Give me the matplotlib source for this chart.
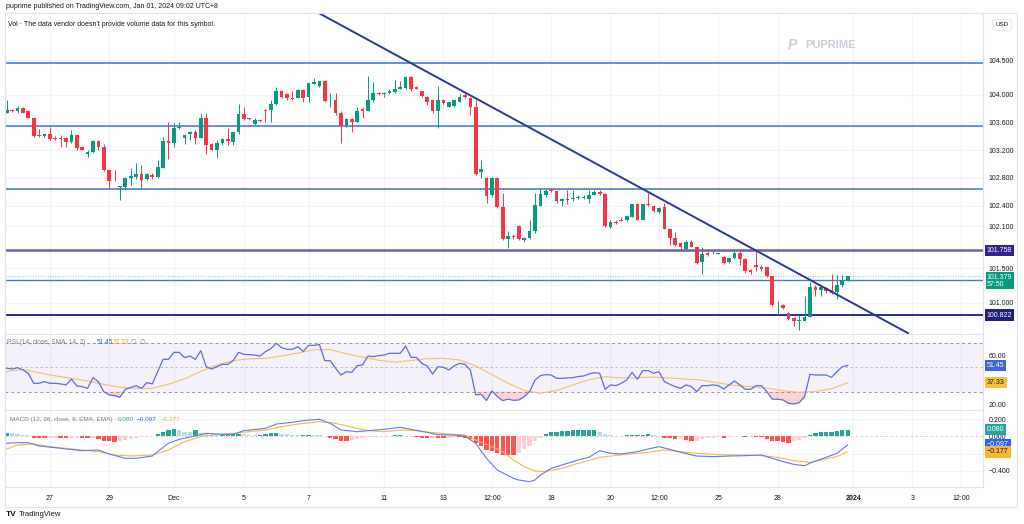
import numpy as np
import matplotlib.pyplot as plt
from matplotlib.patches import Rectangle

plt.rcParams['font.family'] = ['Liberation Sans', 'DejaVu Sans']

# 4H candles, Nov 24 2023 -> Dec 29 2023
opens = [103.74, 103.78, 103.77, 103.81, 103.76, 103.67, 103.42, 103.40, 103.43, 103.38,
         103.38, 103.38, 103.32, 103.42, 103.25, 103.14, 103.17, 103.33, 103.25, 102.91,
         102.76, 102.67, 102.67, 102.80, 102.82, 102.86, 102.78, 102.84, 102.81, 102.95,
         103.33, 103.31, 103.52, 103.37, 103.43, 103.47, 103.38, 103.66, 103.29, 103.21,
         103.30, 103.36, 103.32, 103.46, 103.72, 103.65, 103.58, 103.64, 103.78, 103.78,
         103.87, 104.06, 104.01, 103.96, 103.96, 104.07, 103.97, 104.16, 104.13, 104.20,
         103.92, 103.92, 103.74, 103.55, 103.65, 103.61, 103.79, 103.77, 103.92, 104.03,
         104.01, 104.02, 104.04, 104.09, 104.10, 104.26, 104.11, 104.05, 103.97, 103.92,
         103.77, 103.93, 103.83, 103.84, 103.90, 104.00, 103.95, 103.83, 102.88, 102.80,
         102.55, 102.80, 102.38, 101.92, 101.96, 102.11, 101.91, 101.93, 102.03, 102.40,
         102.56, 102.62, 102.61, 102.46, 102.50, 102.49, 102.51, 102.51, 102.49, 102.56,
         102.60, 102.57, 102.09, 102.17, 102.19, 102.19, 102.24, 102.42, 102.20, 102.42,
         102.40, 102.31, 102.38, 102.07, 101.93, 101.86, 101.77, 101.88, 101.80, 101.58,
         101.71, 101.71, 101.70, 101.66, 101.58, 101.64, 101.72, 101.63, 101.47, 101.54,
         101.52, 101.51, 101.38, 100.96, 100.97, 100.85, 100.78, 100.73, 100.74, 100.80,
         101.23, 101.19, 101.21, 101.19, 101.15, 101.26, 101.33]
highs = [103.93, 103.79, 103.84, 103.82, 103.78, 103.68, 103.50, 103.43, 103.54, 103.40,
         103.42, 103.39, 103.49, 103.43, 103.26, 103.20, 103.35, 103.35, 103.29, 102.92,
         102.91, 102.68, 102.82, 102.95, 103.02, 102.99, 102.87, 102.87, 103.06, 103.39,
         103.60, 103.59, 103.61, 103.44, 103.48, 103.49, 103.74, 103.74, 103.30, 103.35,
         103.37, 103.52, 103.47, 103.87, 103.83, 103.67, 103.66, 103.65, 103.80, 103.92,
         104.11, 104.07, 104.02, 104.06, 104.08, 104.08, 104.17, 104.24, 104.20, 104.21,
         104.02, 104.02, 103.76, 103.67, 103.66, 103.82, 103.82, 104.27, 104.18, 104.04,
         104.04, 104.08, 104.21, 104.20, 104.27, 104.27, 104.12, 104.06, 103.98, 103.94,
         104.12, 103.94, 103.90, 103.93, 104.01, 104.02, 103.97, 103.92, 103.06, 102.81,
         102.81, 102.81, 102.58, 102.04, 101.99, 102.12, 101.95, 102.19, 102.58, 102.65,
         102.64, 102.65, 102.63, 102.51, 102.62, 102.63, 102.56, 102.56, 102.63, 102.63,
         102.63, 102.58, 102.19, 102.19, 102.24, 102.27, 102.43, 102.44, 102.43, 102.58,
         102.41, 102.38, 102.44, 102.08, 102.02, 101.87, 101.90, 101.90, 101.81, 101.81,
         101.74, 101.75, 101.72, 101.67, 101.65, 101.74, 101.75, 101.64, 101.48, 101.76,
         101.54, 101.52, 101.39, 101.02, 100.98, 100.86, 100.79, 100.82, 101.09, 101.30,
         101.26, 101.23, 101.23, 101.42, 101.40, 101.40, 101.39]
lows = [103.74, 103.75, 103.73, 103.73, 103.66, 103.39, 103.39, 103.39, 103.35, 103.35,
        103.25, 103.24, 103.31, 103.21, 103.20, 103.10, 103.16, 103.20, 102.90, 102.65,
        102.75, 102.48, 102.63, 102.70, 102.79, 102.66, 102.77, 102.79, 102.80, 102.94,
        103.07, 103.25, 103.51, 103.29, 103.35, 103.29, 103.37, 103.15, 103.20, 103.09,
        103.28, 103.28, 103.28, 103.44, 103.64, 103.64, 103.57, 103.61, 103.61, 103.60,
        103.85, 103.96, 103.93, 103.92, 103.95, 103.89, 103.89, 104.16, 104.11, 103.89,
        103.83, 103.71, 103.30, 103.53, 103.47, 103.60, 103.66, 103.76, 103.90, 104.00,
        103.97, 104.01, 104.02, 104.08, 104.09, 104.05, 104.09, 103.97, 103.85, 103.74,
        103.52, 103.87, 103.82, 103.83, 103.89, 103.96, 103.71, 102.84, 102.80, 102.44,
        102.53, 102.36, 101.91, 101.79, 101.92, 101.91, 101.88, 101.92, 102.01, 102.39,
        102.53, 102.60, 102.44, 102.40, 102.43, 102.46, 102.49, 102.50, 102.44, 102.56,
        102.56, 102.09, 102.08, 102.14, 102.18, 102.18, 102.23, 102.19, 102.19, 102.40,
        102.31, 102.29, 102.06, 101.83, 101.82, 101.75, 101.76, 101.80, 101.56, 101.42,
        101.67, 101.70, 101.70, 101.56, 101.57, 101.63, 101.54, 101.43, 101.42, 101.45,
        101.45, 101.37, 100.95, 100.82, 100.91, 100.75, 100.66, 100.60, 100.73, 100.79,
        101.09, 101.09, 101.14, 101.13, 101.06, 101.23, 101.32]
closes = [103.78, 103.76, 103.81, 103.74, 103.67, 103.40, 103.40, 103.43, 103.36, 103.36,
          103.36, 103.32, 103.42, 103.23, 103.21, 103.17, 103.33, 103.24, 102.91, 102.76,
          102.75, 102.68, 102.80, 102.83, 102.86, 102.77, 102.86, 102.81, 102.96, 103.34,
          103.31, 103.52, 103.54, 103.42, 103.47, 103.38, 103.66, 103.28, 103.21, 103.30,
          103.36, 103.33, 103.46, 103.72, 103.65, 103.66, 103.64, 103.62, 103.77, 103.87,
          104.06, 103.97, 103.95, 103.94, 104.07, 103.96, 104.17, 104.18, 104.20, 103.91,
          103.93, 103.73, 103.55, 103.65, 103.60, 103.76, 103.77, 103.92, 104.02, 104.01,
          104.03, 104.06, 104.09, 104.11, 104.26, 104.08, 104.09, 103.98, 103.90, 103.77,
          103.93, 103.88, 103.89, 103.92, 103.97, 103.97, 103.83, 102.86, 102.93, 102.54,
          102.80, 102.38, 101.92, 101.96, 101.95, 101.92, 101.93, 102.03, 102.41, 102.57,
          102.61, 102.61, 102.46, 102.49, 102.48, 102.51, 102.52, 102.52, 102.56, 102.60,
          102.57, 102.10, 102.17, 102.15, 102.18, 102.25, 102.42, 102.20, 102.42, 102.41,
          102.32, 102.36, 102.07, 101.93, 101.83, 101.81, 101.88, 101.81, 101.57, 101.70,
          101.69, 101.72, 101.71, 101.57, 101.64, 101.72, 101.63, 101.45, 101.44, 101.52,
          101.48, 101.38, 100.97, 100.97, 100.92, 100.76, 100.73, 100.75, 100.80, 101.22,
          101.18, 101.22, 101.17, 101.14, 101.26, 101.33, 101.38]

# RSI(14) per candle, and its SMA read every 3 candles
rsi = [49.2, 48.6, 49.7, 47.8, 45.1, 36.9, 36.9, 38.3, 36.9, 36.9,
       36.4, 35.6, 40.4, 34.8, 34.2, 32.8, 41.5, 38.3, 30.1, 27.4,
       26.8, 25.5, 32.0, 33.4, 35.0, 32.8, 37.5, 36.4, 46.4, 56.5,
       56.5, 62.2, 62.2, 57.9, 59.2, 56.5, 63.6, 50.5, 48.6, 50.5,
       52.4, 52.4, 55.4, 62.2, 60.6, 60.3, 60.0, 59.2, 62.8, 65.2,
       69.6, 66.0, 64.7, 64.7, 66.8, 63.0, 67.9, 67.9, 68.7, 55.4,
       55.4, 49.2, 43.7, 46.4, 45.9, 51.3, 51.9, 59.2, 58.7, 59.5,
       60.0, 61.4, 61.4, 61.4, 67.4, 58.1, 58.1, 53.2, 51.1, 44.5,
       50.5, 50.0, 47.8, 51.1, 53.2, 52.4, 47.8, 27.4, 27.9, 22.8,
       30.7, 26.0, 22.8, 23.9, 23.0, 23.3, 26.0, 30.1, 39.6, 43.2,
       44.0, 43.7, 41.0, 41.0, 41.3, 41.5, 42.4, 42.9, 44.5, 45.6,
       45.1, 32.0, 35.6, 35.0, 36.9, 39.6, 45.9, 40.2, 47.3, 47.3,
       45.1, 46.4, 38.3, 36.1, 34.2, 32.8, 35.6, 34.2, 30.1, 35.0,
       35.0, 35.6, 35.0, 32.3, 35.6, 38.8, 35.6, 32.0, 32.0, 35.0,
       35.0, 30.1, 23.9, 23.9, 23.3, 20.6, 20.0, 21.1, 26.0, 44.3,
       43.7, 43.7, 43.7, 41.8, 46.4, 50.5, 51.45]
rsi_ma_idx = list(range(0, 157, 3))
rsi_ma = [46.4, 48.3, 45.5, 43.0, 41.0, 38.8, 36.0, 33.8, 32.8, 32.8,
          36.2, 40.5, 46.6, 51.9, 55.4, 57.0, 57.3, 59.2, 61.6, 64.3,
          64.5, 61.0, 58.3, 55.7, 54.2, 55.5, 57.0, 57.3, 56.0, 51.0,
          44.0, 37.0, 31.0, 28.8, 31.0, 35.5, 39.8, 42.3, 41.3, 41.5,
          42.0, 41.2, 40.4, 39.5, 37.2, 35.2, 34.3, 33.0, 30.8, 29.5,
          30.2, 32.5, 37.33]

# MACD (12, 26, 9)
macd_hist = [0.039, 0.035, 0.031, 0.023, 0.012, -0.012, -0.016, -0.019, -0.016, -0.012,
             -0.019, -0.023, -0.019, -0.016, -0.023, -0.023, -0.016, -0.031, -0.047, -0.058,
             -0.066, -0.058, -0.039, -0.027, -0.016, -0.008, -0.004, 0.008, 0.031, 0.058,
             0.078, 0.089, 0.078, 0.058, 0.047, 0.070, 0.039, 0.027, 0.023, 0.019,
             0.019, 0.023, 0.027, 0.031, 0.027, 0.023, 0.016, 0.023, 0.031, 0.039,
             0.039, 0.031, 0.027, 0.023, 0.019, 0.019, 0.023, 0.016, 0.012, 0.002,
             -0.012, -0.031, -0.047, -0.054, -0.039, -0.027, -0.016, -0.008, -0.004, 0.002,
             0.008, 0.008, 0.012, 0.012, 0.004, 0.002, -0.004, -0.012, -0.019, -0.012,
             -0.023, -0.023, -0.012, -0.008, -0.008, -0.012, -0.027, -0.078, -0.116, -0.155,
             -0.174, -0.194, -0.213, -0.213, -0.213, -0.194, -0.147, -0.109, -0.058, -0.019,
             0.027, 0.047, 0.058, 0.066, 0.066, 0.070, 0.070, 0.070, 0.070, 0.070,
             0.058, 0.031, 0.019, 0.008, 0.008, 0.012, 0.016, 0.023, 0.023, 0.027,
             0.019, 0.008, -0.012, -0.023, -0.031, -0.023, -0.039, -0.050, -0.047, -0.031,
             -0.019, -0.016, -0.008, -0.012, -0.004, 0.002, 0.008, -0.008, 0.002, -0.004,
             -0.008, -0.031, -0.047, -0.058, -0.066, -0.070, -0.058, -0.039, -0.012, 0.019,
             0.039, 0.047, 0.050, 0.058, 0.062, 0.070, 0.080]
macd_idx = [0, 2, 4, 6, 9, 11, 14, 17, 19, 22, 24, 27, 28, 30, 32, 35, 37, 40, 42, 44,
            48, 50, 53, 55, 58, 60, 62, 65, 67, 70, 73, 75, 78, 80, 83, 85, 87, 89, 91, 94,
            95, 97, 98, 99, 101, 103, 106, 108, 110, 112, 114, 117, 119, 121, 123, 125, 128,
            131, 134, 137, 140, 143, 146, 148, 149, 152, 154, 156]
macd_line = [-0.079, -0.072, -0.072, -0.110, -0.130, -0.145, -0.165, -0.157, -0.203, -0.254,
             -0.254, -0.227, -0.176, -0.079, -0.033, 0.006, 0.037, 0.025, 0.025, 0.068,
             0.095, 0.145, 0.165, 0.184, 0.200, 0.153, 0.076, 0.056, 0.068, 0.083,
             0.107, 0.083, 0.048, 0.021, 0.017, 0.006, -0.079, -0.254, -0.390, -0.486,
             -0.506, -0.525, -0.506, -0.448, -0.370, -0.331, -0.273, -0.242, -0.165, -0.196,
             -0.203, -0.176, -0.145, -0.118, -0.149, -0.184, -0.227, -0.234, -0.227, -0.223,
             -0.215, -0.273, -0.324, -0.339, -0.310, -0.242, -0.196, -0.097]
signal_idx = [0, 2, 5, 8, 11, 14, 17, 20, 23, 27, 30, 33, 36, 39, 42, 45, 48, 51, 54, 58,
              61, 64, 67, 70, 73, 76, 79, 82, 85, 87, 90, 92, 94, 96, 98, 100, 103, 106, 110,
              112, 115, 119, 122, 125, 128, 131, 134, 137, 140, 143, 146, 149, 151, 154, 156]
signal_line = [-0.145, -0.099, -0.087, -0.118, -0.138, -0.157, -0.176, -0.215, -0.227, -0.215,
               -0.157, -0.060, -0.002, 0.025, 0.037, 0.056, 0.076, 0.114, 0.145, 0.172,
               0.153, 0.107, 0.068, 0.056, 0.076, 0.068, 0.045, 0.029, 0.017, -0.041,
               -0.118, -0.176, -0.273, -0.351, -0.401, -0.409, -0.370, -0.312, -0.242, -0.227,
               -0.207, -0.184, -0.157, -0.176, -0.196, -0.207, -0.215, -0.215, -0.223, -0.242,
               -0.281, -0.300, -0.273, -0.234, -0.177]

# drawn levels and trend line
levels = [104.455, 103.55, 102.636, 101.758, 101.33, 100.822]
level_colors = ['#4a7bd0', '#4a7bd0', '#4a7bd0', '#6b5fb0', '#4a7bd0', '#2c2a8c']
level_widths = [1.2, 1.2, 1.2, 1.8, 1.0, 1.4]
trend_x = [58.1, 167.2]
trend_y = [105.17, 100.56]

price_ticks = [104.5, 104.0, 103.6, 103.2, 102.8, 102.4, 102.1, 101.5, 101.0]
date_pos = [8, 19, 31, 44, 56, 70, 81, 90, 101, 112, 121, 132, 143, 157, 168, 177]
date_lbl = ['27', '29', 'Dec', '5', '7', '11', '13', '12:00', '18', '20', '12:00',
            '25', '28', '2024', '3', '12:00']

UP, DOWN = '#089981', '#f23645'
GRID = '#f0f3fa'
BORDER = '#e0e3eb'
TXT = '#131722'
GRAY = '#787b86'

W, H = 1024, 524
fig = plt.figure(figsize=(W / 100, H / 100), dpi=100)


def px_axes(x0, y0, x1, y1):
    return fig.add_axes([x0 / W, 1 - y1 / H, (x1 - x0) / W, (y1 - y0) / H])


ax = px_axes(5, 13, 983, 334)
ax_rsi = px_axes(5, 334, 983, 410)
ax_macd = px_axes(5, 410, 983, 487)

x = np.arange(len(closes))
o, h, l, c = map(np.array, (opens, highs, lows, closes))
up = c >= o
cols = np.where(up, UP, DOWN)

for a in (ax, ax_rsi, ax_macd):
    a.set_xlim(-0.32, 181.1)
    for p in date_pos:
        a.axvline(p, color=GRID, lw=0.8, zorder=0)
    for s in a.spines.values():
        s.set_color(BORDER)
        s.set_linewidth(0.8)
    a.yaxis.tick_right()
    a.tick_params(axis='y', length=0, pad=4, labelsize=5, labelcolor=TXT)
    a.tick_params(axis='x', length=0)
    a.set_xticks(date_pos)
    a.set_xticklabels([])

# --- price pane
ax.set_ylim(100.548, 105.18)
for t in price_ticks:
    ax.axhline(t, color=GRID, lw=0.8, zorder=0)
ax.set_yticks(price_ticks)
ax.set_yticklabels([f'{t:.3f}' for t in price_ticks])

ax.vlines(x, l, h, colors=cols, lw=0.7, zorder=3)
body = np.maximum(np.abs(c - o), 0.008)
ax.bar(x, body, bottom=np.minimum(o, c), width=0.68, color=cols, zorder=4)

for lv, lc, lw in zip(levels, level_colors, level_widths):
    ax.axhline(lv, color=lc, lw=lw, zorder=2)
ax.plot(trend_x, trend_y, color='#2b3a92', lw=1.4, zorder=5)
ax.axhline(closes[-1], color=UP, lw=0.6, ls=(0, (1, 2)), alpha=0.7, zorder=1)


def right_box(a, y, text, bg, fg='white', pad=0.3):
    a.text(1.004, y, text, transform=a.get_yaxis_transform(), ha='left', va='center',
           fontsize=5, color=fg, clip_on=False, zorder=10, linespacing=1.0,
           bbox=dict(boxstyle=f'square,pad={pad}', fc=bg, ec='none'))


def legend_text(a, px, y, text, color, size=4.7):
    a.text((px - 5) / 978, y, text, transform=a.get_yaxis_transform(), fontsize=size,
           color=color, va='center')


right_box(ax, 101.758, '101.758', '#34208f')
right_box(ax, 101.32, '101.379\n57:50', UP, pad=0.2)
right_box(ax, 100.822, '100.822', '#221f80')

fig.text(6 / W, 1 - 7 / H, 'puprime published on TradingView.com, Jan 01, 2024 09:02 UTC+8',
         fontsize=5, color=TXT, va='center')
fig.text(8 / W, 1 - 24 / H, "Vol \u00b7 The data vendor doesn't provide volume data for this symbol.",
         fontsize=5, color=TXT, va='center')
fig.text(1002 / W, 1 - 25 / H, 'USD', fontsize=4.5, color=TXT, ha='center', va='center',
         bbox=dict(boxstyle='round,pad=0.5', fc='white', ec=BORDER, lw=0.6))
fig.text(792 / W, 1 - 45 / H, 'P', fontsize=10, color='#c9cdd6', weight='bold',
         style='italic', ha='center', va='center')
fig.text(805 / W, 1 - 45 / H, 'PUPRIME', fontsize=8, color='#c9cdd6', weight='bold',
         va='center')

# --- RSI pane
ax_rsi.set_ylim(15.1, 77.2)
ax_rsi.axhspan(30, 70, color='#7e57c2', alpha=0.08, lw=0, zorder=0)
for lv in (70, 30):
    ax_rsi.axhline(lv, color='#9598a1', lw=0.7, ls=(0, (3, 3)), zorder=1)
ax_rsi.axhline(50, color='#b2b5be', lw=0.6, ls=(0, (3, 3)), zorder=1)
ax_rsi.set_yticks([60, 20])
ax_rsi.set_yticklabels(['60.00', '20.00'])
r = np.array(rsi)
ax_rsi.fill_between(x, r, 30, where=r < 30, interpolate=True, color='#f23645',
                    alpha=0.22, lw=0, zorder=2)
ax_rsi.plot(rsi_ma_idx, rsi_ma, color='#f5c06a', lw=0.8, zorder=3)
ax_rsi.plot(x, r, color='#5d6fd3', lw=0.9, zorder=4)
right_box(ax_rsi, 51.45, '51.45', '#3d63e0')
right_box(ax_rsi, 37.33, '37.33', '#f7c33f', TXT)

legend_text(ax_rsi, 7, 70, 'RSI (14, close, SMA, 14, 2)', GRAY)
legend_text(ax_rsi, 97, 70, '51.45', '#3d63e0')
legend_text(ax_rsi, 113, 70, '37.33', '#e8a93a')
legend_text(ax_rsi, 131, 70, '\u2205  \u2205', GRAY)

# --- MACD pane
ax_macd.set_ylim(-0.587, 0.308)
for t in (0.2, -0.2, -0.4):
    ax_macd.axhline(t, color=GRID, lw=0.8, zorder=0)
ax_macd.axhline(0, color='#c3c6ce', lw=0.6, ls=(0, (3, 3)), zorder=0)
hv = np.array(macd_hist)
prev = np.concatenate([[hv[0]], hv[:-1]])
hcols = np.where(hv >= 0, np.where(hv >= prev, '#26a69a', '#b2dfdb'),
                 np.where(hv <= prev, '#ff5252', '#ffcdd2'))
ax_macd.bar(x, hv, width=0.8, color=hcols, zorder=2)
ax_macd.plot(signal_idx, signal_line, color='#f5b849', lw=0.8, zorder=3)
ax_macd.plot(macd_idx, macd_line, color='#5b7fe0', lw=0.8, zorder=4)
ax_macd.set_yticks([0.2, 0.0, -0.4])
ax_macd.set_yticklabels(['0.200', '0.000', '\u22120.400'])
right_box(ax_macd, 0.080, '0.080', '#26a69a')
right_box(ax_macd, -0.097, '\u22120.097', '#2962ff')
right_box(ax_macd, -0.180, '\u22120.177', '#f7b733', TXT)

legend_text(ax_macd, 10, 0.2, 'MACD (12, 26, close, 9, EMA, EMA)', GRAY, 4.6)
legend_text(ax_macd, 118, 0.2, '0.080', '#26a69a', 4.6)
legend_text(ax_macd, 137, 0.2, '\u22120.097', '#2962ff', 4.6)
legend_text(ax_macd, 161, 0.2, '\u22120.177', '#e8a93a', 4.6)

ax_macd.set_xticklabels(date_lbl)
ax_macd.tick_params(axis='x', labelsize=5, labelcolor=TXT, pad=6)
for lab in ax_macd.get_xticklabels():
    if lab.get_text() == '2024':
        lab.set_fontweight('bold')

# outer frame
fig.add_artist(Rectangle((5 / W, 1 - 507 / H), 1012 / W, 494 / H, transform=fig.transFigure,
                         fill=False, ec=BORDER, lw=0.8))

fig.text(6 / W, 1 - 515 / H, 'TV', fontsize=6, weight='bold', color=TXT, va='center')
fig.text(19 / W, 1 - 515 / H, 'TradingView', fontsize=5.5, color=TXT, va='center')

fig.savefig('out.png', dpi=100)
